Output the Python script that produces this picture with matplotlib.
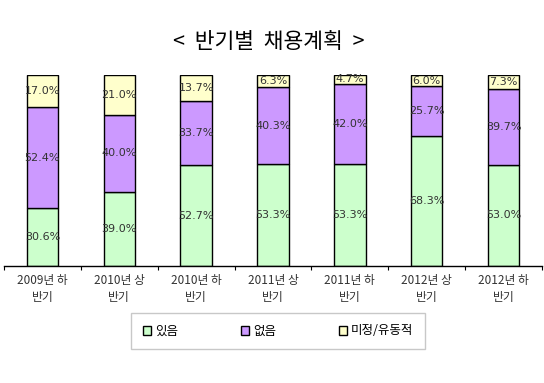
import numpy as np
import matplotlib.pyplot as plt

plt.rcParams['font.family'] = ['Noto Sans CJK KR', 'DejaVu Sans']

# data
periods = ["2009년 하\n반기", "2010년 상\n반기", "2010년 하\n반기", "2011년 상\n반기",
           "2011년 하\n반기", "2012년 상\n반기", "2012년 하\n반기"]
yes_vals = [30.6, 39.0, 52.7, 53.3, 53.3, 68.3, 53.0]
no_vals = [52.4, 40.0, 33.7, 40.3, 42.0, 25.7, 39.7]
undecided_vals = [17.0, 21.0, 13.7, 6.3, 4.7, 6.0, 7.3]
series_names = ["있음", "없음", "미정/유동적"]
colors = ["#CCFFCC", "#CC99FF", "#FFFFCC"]

fig = plt.figure(figsize=(5.44, 3.83), dpi=100)
ax = fig.add_axes([4 / 544, (383 - 266) / 383, 538 / 544, 191 / 383])

x = np.arange(len(periods))
bottom = np.zeros(len(periods))
handles = []
for vals, name, c in zip([yes_vals, no_vals, undecided_vals], series_names, colors):
    vals = np.array(vals)
    b = ax.bar(x, vals, width=0.41, bottom=bottom, color=c, edgecolor='black',
               linewidth=1.0, label=name)
    handles.append(b)
    for xi, v, b0 in zip(x, vals, bottom):
        ax.text(xi, b0 + v / 2, f"{v:.1f}%", ha='center', va='center',
                fontsize=8, color='#333333', family=['DejaVu Sans'])
    bottom += vals

ax.set_xlim(-0.5, len(periods) - 0.5)
ax.set_ylim(0, 100)
for s in ['left', 'right', 'top']:
    ax.spines[s].set_visible(False)
ax.spines['bottom'].set_linewidth(1.0)
ax.set_yticks([])
ax.set_xticks(x)
ax.set_xticklabels(periods, fontsize=8.5, color='#333333', linespacing=1.4)
ax.tick_params(axis='x', length=0, pad=6)
ax.set_xticks(np.arange(len(periods) + 1) - 0.5, minor=True)
ax.tick_params(axis='x', which='minor', length=3, width=0.8, direction='out')

fig.text(0.494, 0.89, "<  반기별  채용계획  >", ha='center', va='center', fontsize=15.5)

leg = fig.legend(handles=handles, labels=series_names, loc='center',
                 bbox_to_anchor=(278 / 544, 1 - 331 / 383), ncol=3,
                 frameon=True, fancybox=False, fontsize=9,
                 handlelength=0.7, handleheight=0.7, columnspacing=5.0,
                 handletextpad=0.3, borderpad=0.9, borderaxespad=0)
leg.get_frame().set_edgecolor('#BBBBBB')
leg.get_frame().set_linewidth(1.0)

fig.savefig("out.png", dpi=100)
